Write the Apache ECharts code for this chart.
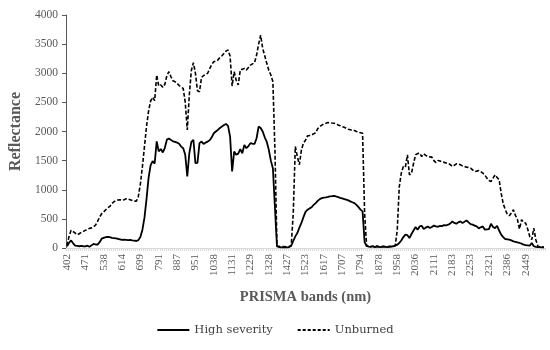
<!DOCTYPE html>
<html>
<head>
<meta charset="utf-8">
<script src="https://cdn.jsdelivr.net/npm/echarts@6/dist/echarts.min.js"></script>
<style>
html,body{margin:0;padding:0;background:#fff;}
#c{width:550px;height:350px;}
</style>
</head>
<body>
<div id="c"></div>
<script>
// Labelled band wavelengths (every 9th band is labelled)
var tickLabels = ['402','471','538','614','699','791','887','951','1038','1131','1229','1328','1427','1523','1617','1707','1794','1878','1958','2036','2111','2183','2253','2321','2386','2449'];
var bandsPerLabel = 9;
var bandCount = 235;

var highSeverity = [
30,90,130,80,40,35,30,35,30,28,
40,20,45,70,60,57,100,160,175,185,
190,185,175,170,165,158,150,140,145,140,
135,138,130,125,120,135,190,314,520,840,
1200,1420,1490,1450,1830,1660,1700,1640,1720,1860,
1880,1856,1830,1820,1810,1790,1741,1713,1600,1228,
1627,1820,1856,1456,1460,1800,1827,1787,1810,1827,
1850,1900,1970,2000,2027,2060,2084,2110,2130,2096,
1913,1313,1656,1600,1620,1696,1627,1770,1713,1750,
1800,1790,1787,1884,2084,2060,2000,1900,1820,1685,
1500,1370,700,30,15,10,10,10,10,15,
40,120,200,257,350,430,530,620,657,680,
700,740,770,810,840,855,865,870,876,885,
890,896,885,875,860,850,840,830,817,800,
785,771,740,702,660,628,100,35,25,20,
30,15,25,20,15,25,20,15,20,25,
30,40,57,85,130,188,230,220,170,240,
300,360,314,370,382,325,350,370,345,360,
385,370,365,380,375,394,390,400,420,457,
430,417,440,457,428,450,474,440,410,400,
385,370,337,355,370,314,320,325,417,360,
342,382,300,230,188,154,150,143,130,114,
105,95,86,75,57,50,45,40,86,30,
20,15,15,10,10
];

var unburned = [
40,200,303,280,257,228,245,268,285,303,
320,337,345,360,394,457,530,588,620,657,
690,714,760,794,810,825,828,817,830,845,
838,828,815,805,805,885,1100,1400,1742,2084,
2350,2520,2587,2530,2970,2780,2798,2758,2810,2960,
3026,2940,2870,2855,2826,2790,2760,2740,2500,2027,
2627,3050,3180,3000,2700,2684,2930,2960,2980,3000,
3080,3150,3198,3210,3226,3272,3300,3340,3380,3398,
3295,2780,3026,2880,2798,3055,3070,3083,3055,3100,
3140,3160,3180,3312,3500,3654,3426,3300,3170,3050,
2970,2855,1685,30,30,20,25,20,30,25,
40,600,1742,1570,1430,1685,1800,1850,1925,1930,
1942,1960,1980,2050,2084,2110,2130,2140,2153,2150,
2145,2141,2130,2113,2100,2085,2073,2055,2038,2030,
2020,2016,2000,1987,1980,1970,600,30,35,25,
30,20,35,25,20,30,25,20,30,25,
20,40,300,1050,1285,1400,1388,1600,1256,1285,
1450,1600,1620,1628,1570,1616,1590,1570,1565,1560,
1500,1467,1502,1495,1480,1470,1460,1456,1430,1400,
1420,1445,1440,1428,1410,1400,1388,1380,1370,1340,
1313,1320,1330,1310,1285,1250,1200,1160,1142,1200,
1256,1210,1170,942,760,657,580,554,600,657,
560,485,325,485,440,428,325,200,143,343,
143,30,20,15,15
];

var categories = [];
for (var i = 0; i < bandCount; i++) {
  categories.push(i % bandsPerLabel === 0 ? (tickLabels[i / bandsPerLabel] || '') : '');
}

var serif = '"Liberation Serif", "DejaVu Serif", serif';
var serifWide = '"DejaVu Serif", "Liberation Serif", serif';
var chart = echarts.init(document.getElementById('c'), null, {renderer: 'canvas'});
chart.setOption({
  animation: false,
  backgroundColor: '#ffffff',
  grid: {left: 65, right: 5, top: 15, bottom: 102, containLabel: false},
  legend: {
    bottom: 9, left: 'center',
    itemWidth: 32, itemHeight: 10, itemGap: 24,
    textStyle: {fontFamily: serifWide, fontSize: 11.5, color: '#404040'},
    data: [
      {name: 'High severity', icon: 'line', itemStyle: {color: '#000', borderColor: '#000', borderWidth: 2, borderType: 'solid'}},
      {name: 'Unburned', icon: 'line', itemStyle: {color: '#000', borderColor: '#000', borderWidth: 1.8, borderType: [3, 2]}}
    ]
  },
  xAxis: {
    type: 'category',
    data: categories,
    boundaryGap: true,
    name: 'PRISMA bands (nm)',
    nameLocation: 'middle',
    nameGap: 42,
    nameTextStyle: {fontFamily: serif, fontSize: 14.5, fontWeight: 'bold', color: '#595959'},
    axisLine: {lineStyle: {color: '#d9d9d9', width: 1}},
    axisTick: {show: true, interval: 0, length: 3, lineStyle: {color: '#d9d9d9'}},
    axisLabel: {interval: bandsPerLabel - 1, rotate: 90, fontFamily: serif, fontSize: 11, color: '#595959', margin: 6},
    splitLine: {show: false}
  },
  yAxis: {
    type: 'value',
    min: 0, max: 4000, interval: 500,
    name: 'Reflectance',
    nameLocation: 'middle',
    nameGap: 42,
    nameRotate: 90,
    nameTextStyle: {fontFamily: serif, fontSize: 16, fontWeight: 'bold', color: '#595959'},
    axisLine: {show: true, lineStyle: {color: '#595959', width: 1}},
    axisTick: {show: true, length: 4, lineStyle: {color: '#595959'}},
    axisLabel: {fontFamily: serif, fontSize: 11.5, color: '#595959', margin: 8,
      formatter: function (v) { return String(v); }},
    splitLine: {show: false}
  },
  series: [
    {
      name: 'High severity', type: 'line', data: highSeverity,
      symbol: 'none', showSymbol: false,
      lineStyle: {color: '#000000', width: 1.8, type: 'solid'},
      itemStyle: {color: '#000000'}
    },
    {
      name: 'Unburned', type: 'line', data: unburned,
      symbol: 'none', showSymbol: false,
      lineStyle: {color: '#000000', width: 1.6, type: [4, 2]},
      itemStyle: {color: '#000000'}
    }
  ]
});
</script>
</body>
</html>
